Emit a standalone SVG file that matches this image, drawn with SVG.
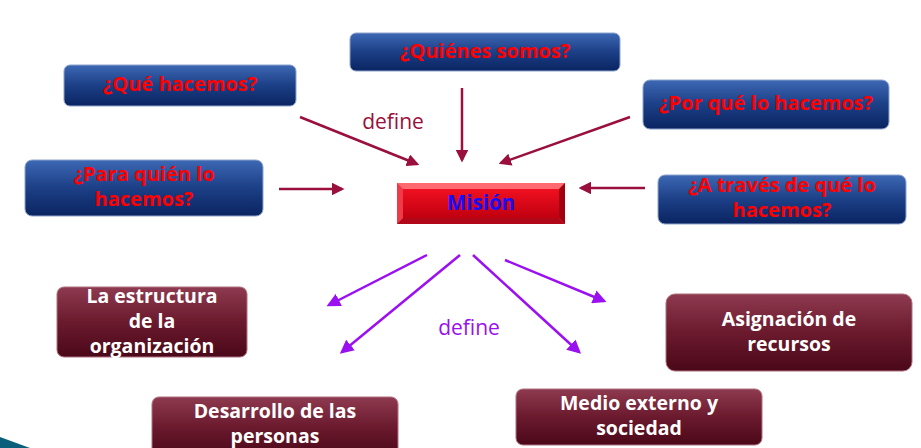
<svg xmlns="http://www.w3.org/2000/svg" width="921" height="448" viewBox="0 0 921 448">
<defs>
<linearGradient id="gBlue" x1="0" y1="0" x2="0" y2="1">
<stop offset="0" stop-color="#3d68b4"/><stop offset="0.5" stop-color="#1c3f86"/><stop offset="1" stop-color="#0a2461"/>
</linearGradient>
<linearGradient id="gMar" x1="0" y1="0" x2="0" y2="1">
<stop offset="0" stop-color="#8e3a50"/><stop offset="0.5" stop-color="#6b1a2e"/><stop offset="1" stop-color="#4a0818"/>
</linearGradient>
<linearGradient id="gRed" x1="0" y1="0" x2="0" y2="1">
<stop offset="0" stop-color="#f01020"/><stop offset="1" stop-color="#c00010"/>
</linearGradient>
<marker id="aR" viewBox="0 0 10 10" refX="8" refY="5" markerWidth="5" markerHeight="5" orient="auto" markerUnits="strokeWidth">
<path d="M0,0 L10,5 L0,10 z" fill="#9a0f3c"/>
</marker>
<marker id="aP" viewBox="0 0 10 10" refX="8" refY="5" markerWidth="5.5" markerHeight="5.5" orient="auto" markerUnits="strokeWidth">
<path d="M0,0 L10,5 L0,10 z" fill="#9a10f0"/>
</marker>
</defs>
<style>
.q rect{fill:url(#gBlue);stroke:#8ea4cc;stroke-width:1}
.q text{fill:#ff0000;font-family:"Open Sans","DejaVu Sans",sans-serif;font-weight:bold;font-size:20px;text-anchor:middle}
.m rect{fill:url(#gMar);stroke:#b07080;stroke-width:1}
.m text{fill:#ffffff;font-family:"Open Sans","DejaVu Sans",sans-serif;font-weight:bold;font-size:19.5px;text-anchor:middle}
.lr{stroke:#9a0f3c;stroke-width:2.5;fill:none;marker-end:url(#aR)}
.lp{stroke:#9a10f0;stroke-width:2.5;fill:none;marker-end:url(#aP)}
.lbl{font-family:"Open Sans","DejaVu Sans",sans-serif;font-size:21px;text-anchor:middle}
</style>
<rect width="921" height="448" fill="#ffffff"/>
<polygon points="0,437 30,448 0,448" fill="#0b5f7a"/>
<g id="connectors">
<line class="lr" x1="300" y1="117" x2="417" y2="164"/>
<line class="lr" x1="462" y1="88" x2="462" y2="160"/>
<line class="lr" x1="630" y1="117" x2="501" y2="163"/>
<line class="lr" x1="279" y1="189" x2="342" y2="189"/>
<line class="lr" x1="645" y1="188" x2="581" y2="188"/>
<line class="lp" x1="427" y1="255" x2="329" y2="305"/>
<line class="lp" x1="460" y1="255" x2="342" y2="352"/>
<line class="lp" x1="473" y1="255" x2="579" y2="352"/>
<line class="lp" x1="505" y1="260" x2="604" y2="301"/>
<text class="lbl" x="393" y="129" fill="#9a0f3c">define</text>
<text class="lbl" x="469" y="335" fill="#9a10f0">define</text>
</g>
<g id="quienes" class="q"><rect x="350" y="33" width="270" height="38" rx="6"/><text x="485" y="58">¿Quiénes somos?</text></g>
<g id="que" class="q"><rect x="64" y="65" width="232" height="41" rx="6"/><text x="180" y="91">¿Qué hacemos?</text></g>
<g id="paraquien" class="q"><rect x="25" y="160" width="238" height="56" rx="7"/><text x="144" y="181">¿Para quién lo</text><text x="144" y="206">hacemos?</text></g>
<g id="porque" class="q"><rect x="643" y="80" width="246" height="49" rx="7"/><text x="766" y="110">¿Por qué lo hacemos?</text></g>
<g id="atraves" class="q"><rect x="658" y="175" width="248" height="49" rx="7"/><text x="782" y="192">¿A través de qué lo</text><text x="782" y="217">hacemos?</text></g>
<g id="mision">
<rect x="397" y="183" width="168" height="41" fill="#ff4a58"/>
<polygon points="397,183 565,183 559,189 403,189" fill="#ff6a70"/>
<polygon points="397,183 403,189 403,218 397,224" fill="#f03a48"/>
<polygon points="565,183 565,224 559,218 559,189" fill="#a00010"/>
<polygon points="397,224 403,218 559,218 565,224" fill="#b00818"/>
<rect x="403" y="189" width="156" height="29" fill="url(#gRed)"/>
<text x="481" y="210" fill="#1010ff" font-family="Open Sans,DejaVu Sans,sans-serif" font-weight="bold" font-size="20.5" text-anchor="middle">Misión</text>
</g>
<g id="estructura" class="m"><rect x="57" y="287" width="190" height="70" rx="7"/><text x="152" y="303">La estructura</text><text x="152" y="328">de la</text><text x="152" y="353">organización</text></g>
<g id="desarrollo" class="m"><rect x="152" y="397" width="246" height="60" rx="7"/><text x="275" y="418">Desarrollo de las</text><text x="275" y="443">personas</text></g>
<g id="medio" class="m"><rect x="516" y="389" width="246" height="56" rx="7"/><text x="639" y="410">Medio externo y</text><text x="639" y="435">sociedad</text></g>
<g id="asignacion" class="m"><rect x="666" y="294" width="246" height="77" rx="9"/><text x="789" y="326">Asignación de</text><text x="789" y="351">recursos</text></g>
</svg>
